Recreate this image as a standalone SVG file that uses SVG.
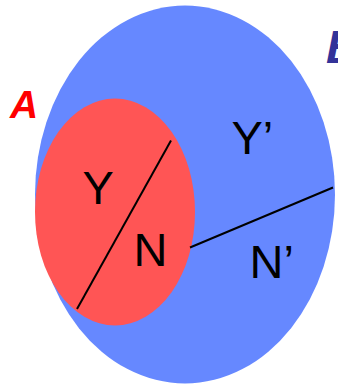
<svg xmlns="http://www.w3.org/2000/svg" width="338" height="386" viewBox="0 0 338 386">
<style>
.lbl{font-family:"Liberation Sans",Arial,sans-serif;font-size:47px;fill:#000}
.set{font-family:"Liberation Sans",Arial,sans-serif;font-weight:bold;font-style:italic}
.ln{stroke:#000;stroke-width:2;fill:none}
</style>
<rect width="338" height="386" fill="#fff"/>
<g id="setB">
<ellipse cx="185" cy="194.5" rx="150" ry="189" fill="#6688FF"/>
<text class="set" x="326" y="63" font-size="47" fill="#333399">B</text>
</g>
<g id="setA">
<ellipse cx="115" cy="212" rx="80" ry="113.5" fill="#FF5555"/>
<text class="set" x="10" y="118" font-size="39" fill="#FF0000">A</text>
</g>
<g id="connectors">
<line class="ln" x1="171" y1="140.5" x2="77" y2="309"/>
<line class="ln" x1="190" y1="247.5" x2="333" y2="187.5"/>
</g>
<g id="labels">
<text class="lbl" x="82.5" y="204">Y</text>
<text class="lbl" x="133.5" y="265.5">N</text>
<text class="lbl" x="231.5" y="154">Y’</text>
<text class="lbl" x="249.5" y="277.5">N’</text>
</g>
</svg>
